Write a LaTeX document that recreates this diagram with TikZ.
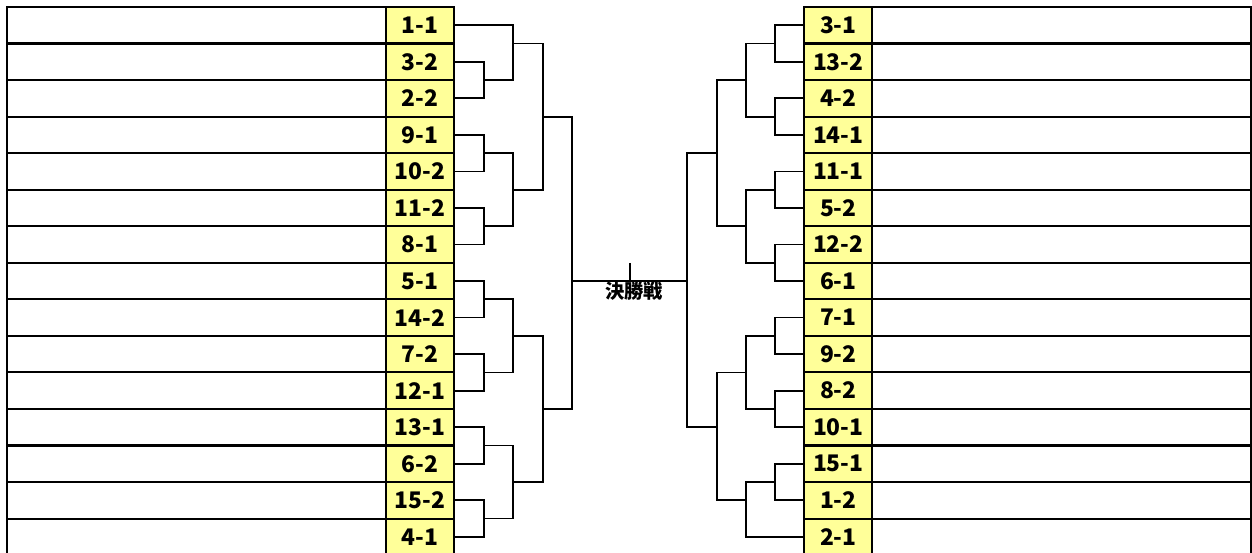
\documentclass[tikz,border=0pt]{standalone}
\usepackage{fontspec}
\setmainfont{Noto Sans CJK JP}
\definecolor{seedyellow}{RGB}{255,255,153}
\usetikzlibrary{positioning}

\begin{document}
\begin{tikzpicture}[x=0.02cm,y=-0.731cm,
  seedcell/.style={draw,fill=seedyellow,line width=1.2pt,minimum height=0.731cm,minimum width=1.36cm,inner sep=0pt,outer sep=0pt,font=\fontsize{13}{14}\selectfont\bfseries},
  namecell/.style={draw,line width=1.2pt,minimum height=0.731cm,minimum width=7.58cm,inner sep=0pt,outer sep=0pt},
  bracket/.style={line width=1pt}]
  \useasboundingbox (0,-0.1915) rectangle (1252,14.938);
  % left block
  \foreach \lab [count=\i from 0] in {1-1,3-2,2-2,9-1,10-2,11-2,8-1,5-1,14-2,7-2,12-1,13-1,6-2,15-2,4-1} {
    \node[seedcell] (L\i) at (420,\i+0.5) {\lab};
    \node[namecell,left=0pt of L\i] (LN\i) {};
  }
  % right block
  \foreach \lab [count=\i from 0] in {3-1,13-2,4-2,14-1,11-1,5-2,12-2,6-1,7-1,9-2,8-2,10-1,15-1,1-2,2-1} {
    \node[seedcell] (R\i) at (838.3,\i+0.5) {\lab};
    \node[namecell,right=0pt of R\i] (RN\i) {};
  }
  % left bracket
  \coordinate (la1) at (484,2);
  \coordinate (la2) at (484,4);
  \coordinate (la3) at (484,6);
  \coordinate (la4) at (484,8);
  \coordinate (la5) at (484,10);
  \coordinate (la6) at (484,12);
  \coordinate (la7) at (484,14);
  \coordinate (lb1) at (513,1);
  \coordinate (lb2) at (513,5);
  \coordinate (lb3) at (513,9);
  \coordinate (lb4) at (513,13);
  \coordinate (lc1) at (542.7,3);
  \coordinate (lc2) at (542.7,11);
  \coordinate (ld) at (571.7,7.5);
  \draw[bracket] (L1.east) -| (la1);
  \draw[bracket] (L2.east) -| (la1);
  \draw[bracket] (L3.east) -| (la2);
  \draw[bracket] (L4.east) -| (la2);
  \draw[bracket] (L5.east) -| (la3);
  \draw[bracket] (L6.east) -| (la3);
  \draw[bracket] (L7.east) -| (la4);
  \draw[bracket] (L8.east) -| (la4);
  \draw[bracket] (L9.east) -| (la5);
  \draw[bracket] (L10.east) -| (la5);
  \draw[bracket] (L11.east) -| (la6);
  \draw[bracket] (L12.east) -| (la6);
  \draw[bracket] (L13.east) -| (la7);
  \draw[bracket] (L14.east) -| (la7);
  \draw[bracket] (L0.east) -| (lb1);
  \draw[bracket] (la1) -| (lb1);
  \draw[bracket] (la2) -| (lb2);
  \draw[bracket] (la3) -| (lb2);
  \draw[bracket] (la4) -| (lb3);
  \draw[bracket] (la5) -| (lb3);
  \draw[bracket] (la6) -| (lb4);
  \draw[bracket] (la7) -| (lb4);
  \draw[bracket] (lb1) -| (lc1);
  \draw[bracket] (lb2) -| (lc1);
  \draw[bracket] (lb3) -| (lc2);
  \draw[bracket] (lb4) -| (lc2);
  \draw[bracket] (lc1) -| (ld);
  \draw[bracket] (lc2) -| (ld);
  % right bracket
  \coordinate (ra1) at (775,1);
  \coordinate (ra2) at (775,3);
  \coordinate (ra3) at (775,5);
  \coordinate (ra4) at (775,7);
  \coordinate (ra5) at (775,9);
  \coordinate (ra6) at (775,11);
  \coordinate (ra7) at (775,13);
  \coordinate (rb1) at (745.7,2);
  \coordinate (rb2) at (745.7,6);
  \coordinate (rb3) at (745.7,10);
  \coordinate (rb4) at (745.7,13.5);
  \coordinate (rc1) at (716.7,4);
  \coordinate (rc2) at (716.7,11.5);
  \coordinate (rd) at (687.3,7.5);
  \draw[bracket] (R0.west) -| (ra1);
  \draw[bracket] (R1.west) -| (ra1);
  \draw[bracket] (R2.west) -| (ra2);
  \draw[bracket] (R3.west) -| (ra2);
  \draw[bracket] (R4.west) -| (ra3);
  \draw[bracket] (R5.west) -| (ra3);
  \draw[bracket] (R6.west) -| (ra4);
  \draw[bracket] (R7.west) -| (ra4);
  \draw[bracket] (R8.west) -| (ra5);
  \draw[bracket] (R9.west) -| (ra5);
  \draw[bracket] (R10.west) -| (ra6);
  \draw[bracket] (R11.west) -| (ra6);
  \draw[bracket] (R12.west) -| (ra7);
  \draw[bracket] (R13.west) -| (ra7);
  \draw[bracket] (R14.west) -| (rb4);
  \draw[bracket] (ra1) -| (rb1);
  \draw[bracket] (ra2) -| (rb1);
  \draw[bracket] (ra3) -| (rb2);
  \draw[bracket] (ra4) -| (rb2);
  \draw[bracket] (ra5) -| (rb3);
  \draw[bracket] (ra6) -| (rb3);
  \draw[bracket] (ra7) -| (rb4);
  \draw[bracket] (rb1) -| (rc1);
  \draw[bracket] (rb2) -| (rc1);
  \draw[bracket] (rb3) -| (rc2);
  \draw[bracket] (rb4) -| (rc2);
  \draw[bracket] (rc1) -| (rd);
  \draw[bracket] (rc2) -| (rd);
  % final
  \draw[bracket] (ld) -- (rd);
  \coordinate (tick) at (630,7);
  \draw[bracket] (tick) -- (tick |- ld);
  \node[font=\fontsize{11}{12}\selectfont\bfseries,anchor=north,inner sep=0.5pt] (finallabel) at (634,7.5) {決勝戦};
\end{tikzpicture}
\end{document}
